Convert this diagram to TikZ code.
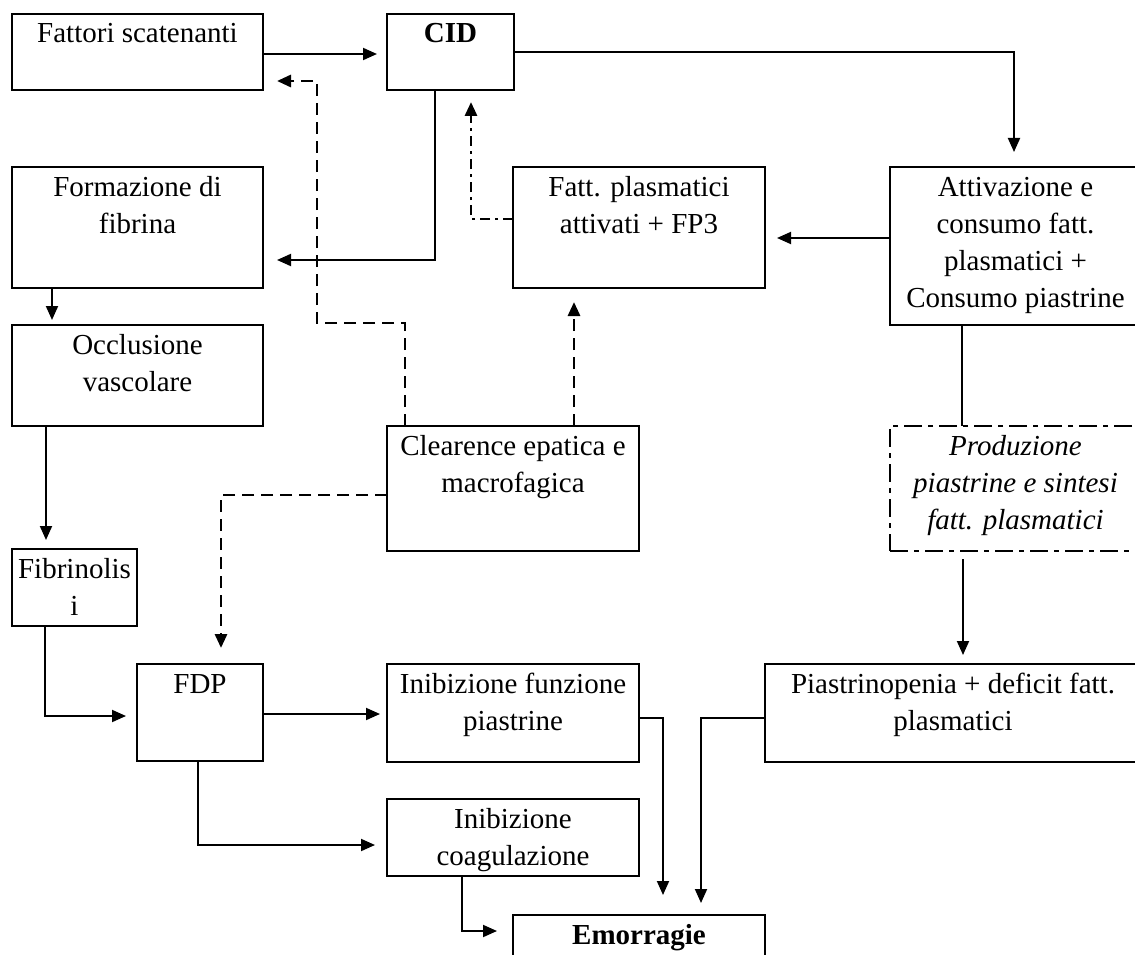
\documentclass[tikz,border=0pt]{standalone}
\usepackage{fontspec}
\setmainfont{Liberation Serif}
\usetikzlibrary{arrows.meta}
\newcommand{\tbx}[3]{\parbox[c][#2][t]{#1}{\centering\rule{0pt}{29pt}#3}}
\begin{document}
\begin{tikzpicture}[x=1pt,y=-1pt,
  box/.style={draw, line width=2.6pt, inner sep=0pt, outer sep=0pt, font=\fontsize{29}{37}\selectfont},
  ddbox/.style={box, dash pattern=on 18pt off 6pt on 5pt off 6pt},
  conn/.style={line width=1.9pt, -{Triangle[length=14pt,width=12pt]}},
  plain/.style={line width=1.9pt},
  dashc/.style={line width=2.9pt, dash pattern=on 12pt off 7pt, -{Triangle[length=14pt,width=12pt]}},
  dashdotc/.style={line width=2.9pt, dash pattern=on 10pt off 5pt on 3pt off 5pt, -{Triangle[length=14pt,width=12pt]}}
]
\useasboundingbox (0,0) rectangle (1135,955);
\clip (0,0) rectangle (1135,955);
\fill[white] (0,0) rectangle (1135,955);

% boxes
\node[box] (fat) at (137.5,52)  {\tbx{251pt}{76pt}{Fattori scatenanti}};
\node[box] (cid) at (450.5,52)  {\tbx{127pt}{76pt}{\textbf{CID}}};
\node[box] (form) at (137.5,227.5) {\tbx{251pt}{121pt}{Formazione di\\fibrina}};
\node[box] (fpl) at (639,227.5) {\tbx{252pt}{121pt}{Fatt. plasmatici\\attivati + FP3}};
\node[box] (att) at (1015.5,246) {\tbx{251pt}{158pt}{Attivazione e\\consumo fatt.\\plasmatici +\\Consumo piastrine}};
\node[box] (occ) at (137.5,375.5) {\tbx{251pt}{101pt}{Occlusione\\vascolare}};
\node[box] (cle) at (513,488.5) {\tbx{252pt}{125pt}{Clearence epatica e\\macrofagica}};
\node[ddbox] (pro) at (1015.5,488.5) {\tbx{251pt}{125pt}{\itshape Produzione\\piastrine e sintesi\\fatt. plasmatici}};
\node[box] (fib) at (74.5,587.5) {\tbx{125pt}{77pt}{Fibrinolis\\i}};
\node[box] (fdp) at (200,712.5) {\tbx{126pt}{97pt}{FDP}};
\node[box] (ifu) at (513,713) {\tbx{252pt}{98pt}{Inibizione funzione\\piastrine}};
\node[box] (pia) at (953,713) {\tbx{376pt}{98pt}{Piastrinopenia + deficit fatt.\\plasmatici}};
\node[box] (ico) at (513,837.5) {\tbx{252pt}{77pt}{Inibizione\\coagulazione}};
\node[box] (emo) at (639,955) {\tbx{252pt}{80pt}{\textbf{Emorragie}}};

% connectors
\draw[conn, shorten >=10pt] (fat.east |- 0,54) -- (cid.west |- 0,54);
\draw[conn, shorten >=15pt] (cid.east |- 0,52) -| (1014,0 |- att.north);
\draw[conn, shorten >=14pt] (435,0 |- cid.south) |- (form.east |- 0,260);
\draw[dashdotc, shorten >=12pt] (fpl.west |- 0,219) -| (471,0 |- cid.south);
\draw[dashc, shorten >=14pt] (405,0 |- cle.north) |- (317,323) |- (fat.east |- 0,81);
\draw[dashc, shorten >=14pt] (574,0 |- cle.north) -- (574,0 |- fpl.south);
\draw[conn, shorten >=12pt] (att.west |- 0,238) -- (fpl.east |- 0,238);
\draw[plain] (962,0 |- att.south) -- (962,0 |- pro.north);
\draw[conn, shorten <=8pt, shorten >=9pt] (963,0 |- pro.south) -- (963,0 |- pia.north);
\draw[conn, shorten >=5pt] (52,0 |- form.south) -- (52,0 |- occ.north);
\draw[conn, shorten >=9pt] (46,0 |- occ.south) -- (46,0 |- fib.north);
\draw[conn, shorten >=11pt] (45,0 |- fib.south) |- (fdp.west |- 0,716);
\draw[dashc, shorten >=16pt] (cle.west |- 0,495) -| (221,0 |- fdp.north);
\draw[conn, shorten >=7pt] (fdp.east |- 0,714) -- (ifu.west |- 0,714);
\draw[conn, shorten >=12pt] (198,0 |- fdp.south) |- (ico.west |- 0,845);
\draw[conn, shorten >=16pt] (462,0 |- ico.south) |- (emo.west |- 0,931);
\draw[conn, shorten >=20pt] (ifu.east |- 0,718) -| (663,0 |- emo.north);
\draw[conn, shorten >=12pt] (pia.west |- 0,718) -| (701,0 |- emo.north);
\end{tikzpicture}
\end{document}
